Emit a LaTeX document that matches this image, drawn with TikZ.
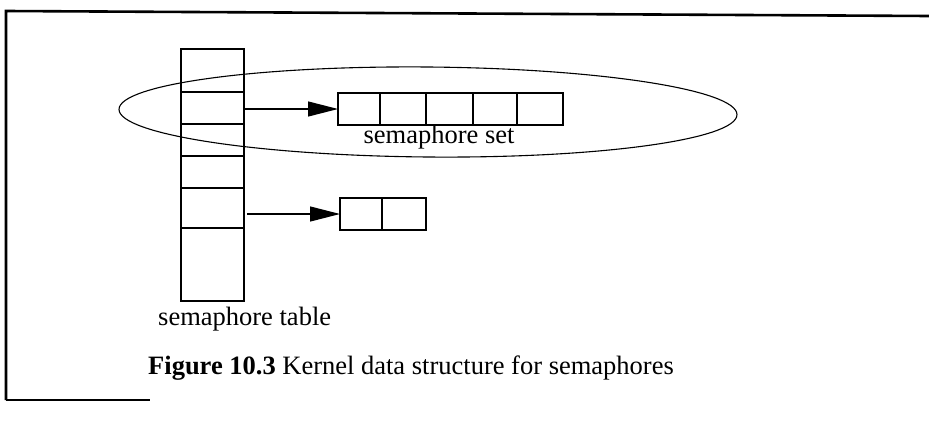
\documentclass[tikz,border=0pt]{standalone}
\usepackage{fontspec}
\setmainfont{Liberation Serif}
\usetikzlibrary{arrows.meta,shapes.geometric}
\begin{document}
\begin{tikzpicture}[x=1pt,y=-1pt,
  cell/.style={draw,line width=1.2pt,inner sep=0pt,outer sep=0pt,anchor=north west},
  arr/.style={line width=1.2pt,-{Triangle[length=30pt,width=15pt]}},
  lbl/.style={font=\fontsize{26.5}{30}\selectfont,inner sep=0pt},
  frame/.style={line width=2.6pt}]
\useasboundingbox (0,0) rectangle (929,423);
% frame
\coordinate (fb) at (6,400);
\coordinate (fl) at (6,11);
\coordinate (fr) at (929,16);
\coordinate (fe) at (150,400);
\draw[frame] (fb) -- (fl) -- (fr);
\draw[line width=1.6pt] (fb) -- (fe);
% semaphore table
\node[cell,minimum width=63pt,minimum height=43pt] (t1) at (181,49) {};
\node[cell,minimum width=63pt,minimum height=32pt] (t2) at (181,92) {};
\node[cell,minimum width=63pt,minimum height=32pt] (t3) at (181,124) {};
\node[cell,minimum width=63pt,minimum height=32pt] (t4) at (181,156) {};
\node[cell,minimum width=63pt,minimum height=40pt] (t5) at (181,188) {};
\node[cell,minimum width=63pt,minimum height=73pt] (t6) at (181,228) {};
% semaphore set
\node[cell,minimum width=42pt,minimum height=32pt] (s1) at (338,93) {};
\node[cell,minimum width=46pt,minimum height=32pt] (s2) at (380,93) {};
\node[cell,minimum width=47pt,minimum height=32pt] (s3) at (426,93) {};
\node[cell,minimum width=44pt,minimum height=32pt] (s4) at (473,93) {};
\node[cell,minimum width=46pt,minimum height=32pt] (s5) at (517,93) {};
% second set
\node[cell,minimum width=42pt,minimum height=32pt] (u1) at (340,198) {};
\node[cell,minimum width=44pt,minimum height=32pt] (u2) at (382,198) {};
% ellipse
\node[draw,ellipse,line width=1.1pt,minimum width=618pt,minimum height=90pt,inner sep=0pt,rotate=-0.5] (el) at (428,112) {};
% arrows
\draw[arr] (s1.west -| t2.east) -- (s1.west);
\draw[arr,shorten <=3pt] (u1.west -| t5.east) -- (u1.west);
% labels
\node[lbl,anchor=base] (setlbl) at (439,143) {semaphore set};
\node[lbl,anchor=base west] (tbllbl) at (158,325) {semaphore table};
\node[lbl,anchor=base west] (cap) at (148,374) {\textbf{Figure 10.3} Kernel data structure for semaphores};
\end{tikzpicture}
\end{document}
